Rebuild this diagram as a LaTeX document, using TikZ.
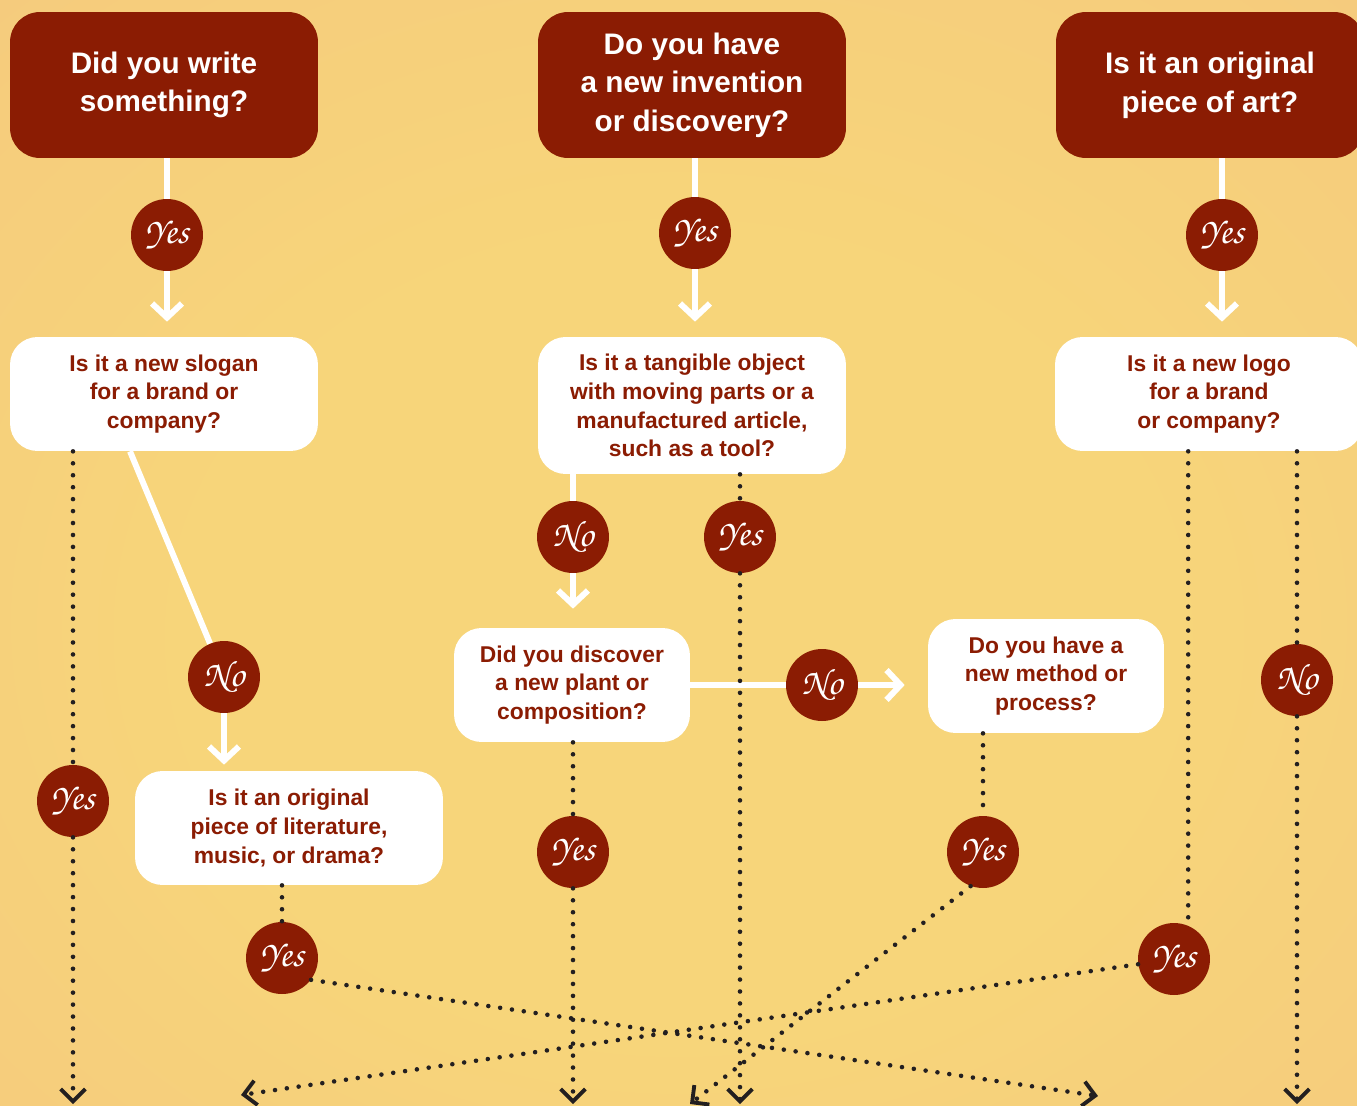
\documentclass[tikz,border=0pt]{standalone}
\usepackage[T1]{fontenc}
\usepackage{fontspec}
\setmainfont{Liberation Sans}
\usetikzlibrary{positioning, arrows.meta, calc}

\definecolor{boxred}{RGB}{139,28,3}
\definecolor{bgpeach}{RGB}{244,195,127}
\definecolor{bglight}{RGB}{247,213,122}
\definecolor{dotblack}{RGB}{35,31,32}
\newcommand{\scriptans}{\fontencoding{T1}\fontfamily{pzc}\fontseries{mb}\fontshape{it}\fontsize{21}{21}\selectfont}
\pgfdeclareradialshading{bgshade}{\pgfpoint{0bp}{-6bp}}{color(0bp)=(bglight); color(18bp)=(bglight); color(52bp)=(bgpeach)}

\tikzset{
  topq/.style={rectangle, rounded corners=0.6cm, fill=boxred, text=white, font=\fontsize{16.9}{22}\selectfont\bfseries, minimum width=6.16cm, minimum height=2.92cm, align=center, inner sep=0pt},
  subq/.style={rectangle, rounded corners=0.55cm, fill=white, text=boxred, font=\fontsize{13}{16.4}\selectfont\bfseries, minimum width=6.16cm, minimum height=2.28cm, align=center, inner sep=0pt},
  answer/.style={circle, fill=boxred, text=white, font=\scriptans, minimum size=1.44cm, inner sep=0pt},
  wline/.style={white, line width=3.4pt},
  warrow/.style={wline, -{Straight Barb[length=8pt, width=17pt, line width=3.4pt]}},
  dotline/.style={dotblack, line width=2.6pt, line cap=round, dash pattern=on 0pt off 6.8pt},
  dotarrow/.style={dotline, -{Straight Barb[length=7pt, width=14pt, line width=2.2pt]}}
}

\begin{document}
\begin{tikzpicture}[x=0.02cm, y=-0.02cm]
    % Background
    \useasboundingbox (0,0) rectangle (1357,1106);
    \clip (0,0) rectangle (1357,1106);
    \shade[shading=bgshade] (0,0) rectangle (1357,1106);

    % Questions
    \node[topq] (q1) at (164,85) {Did you write\\something?};
    \node[topq] (q2) at (692,85) {Do you have\\a new invention\\or discovery?};
    \node[topq] (q3) at (1210,85) {Is it an original\\piece of art?};

    \node[subq] (l1) at (164,394) {Is it a new slogan\\for a brand or\\company?};
    \node[subq, minimum height=2.74cm] (m1) at (692,405.5) {Is it a tangible object\\with moving parts or a\\manufactured article,\\such as a tool?};
    \node[subq] (r1) at (1209,394) {Is it a new logo\\for a brand\\or company?};
    \node[subq] (l2) at (289,828) {Is it an original\\piece of literature,\\music, or drama?};
    \node[subq, minimum width=4.72cm] (m2) at (572,685) {Did you discover\\a new plant or\\composition?};
    \node[subq, minimum width=4.72cm] (m3) at (1046,676) {Do you have a\\new method or\\process?};

    % Answers
    \node[answer] (y1) at (167,235) {Yes};
    \node[answer] (y2) at (695,233) {Yes};
    \node[answer] (y3) at (1222,235) {Yes};
    \node[answer] (n1) at (224,677) {No};
    \node[answer] (y4) at (73,801) {Yes};
    \node[answer] (n2) at (573,537) {No};
    \node[answer] (y5) at (740,537) {Yes};
    \node[answer] (n3) at (822,685) {No};
    \node[answer] (y6) at (573,852) {Yes};
    \node[answer] (y7) at (983,852) {Yes};
    \node[answer] (n4) at (1297,680) {No};
    \node[answer] (y8) at (282,958) {Yes};
    \node[answer] (y9) at (1174,959) {Yes};

    % Outcome ends
    \coordinate (d1) at (73,1104);
    \coordinate (d2) at (241,1095);
    \coordinate (d3) at (573,1104);
    \coordinate (d4) at (690,1104);
    \coordinate (d5) at (740,1104);
    \coordinate (d6) at (1098,1096);
    \coordinate (d7) at (1297,1104);

    % White paths
    \draw[wline] (q1.south -| y1) -- (y1);
    \draw[warrow, shorten >=0.3cm] (y1) -- (y1 |- l1.north);
    \draw[wline] (q2.south -| y2) -- (y2);
    \draw[warrow, shorten >=0.3cm] (y2) -- (y2 |- m1.north);
    \draw[wline] (q3.south -| y3) -- (y3);
    \draw[warrow, shorten >=0.3cm] (y3) -- (y3 |- r1.north);
    \draw[wline] ([xshift=-0.68cm]l1.south) -- (n1);
    \draw[warrow, shorten >=0.12cm] (n1) -- (n1 |- l2.north);
    \draw[wline] (m1.south -| n2) -- (n2);
    \draw[warrow, shorten >=0.38cm] (n2) -- (n2 |- m2.north);
    \draw[wline] (m2.east |- n3) -- (n3);
    \draw[warrow, shorten >=0.46cm] (n3) -- (n3 -| m3.west);

    % Dotted paths
    \draw[dotline] (l1.south -| y4) -- (y4);
    \draw[dotarrow] (y4) -- (d1);
    \draw[dotline] (l2.south -| y8) -- (y8);
    \draw[dotarrow] (y8.-37) -- (d6);
    \draw[dotline] (m1.south -| y5) -- (y5);
    \draw[dotarrow] (y5) -- (d5);
    \draw[dotline] (m2.south -| y6) -- (y6);
    \draw[dotarrow] (y6) -- (d3);
    \draw[dotline] (m3.south -| y7) -- (y7);
    \draw[dotarrow] (y7.-110) -- (d4);
    \draw[dotline] (r1.south -| y9.67) -- (y9.67);
    \draw[dotarrow] (y9) -- (d2);
    \draw[dotline] (r1.south -| n4) -- (n4);
    \draw[dotarrow] (n4) -- (d7);
\end{tikzpicture}
\end{document}
